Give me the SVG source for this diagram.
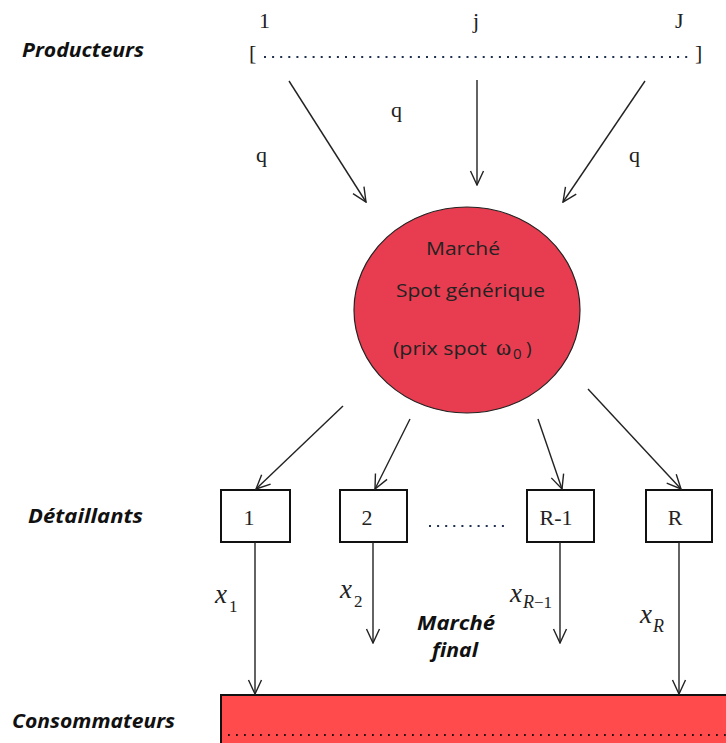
<svg xmlns="http://www.w3.org/2000/svg" width="726" height="743" viewBox="0 0 726 743">
<defs>
<style>
.lbl{font-family:"Open Sans",Lato,"Liberation Sans",sans-serif;font-weight:bold;font-style:italic;font-size:19px;fill:#111}
.ser{font-family:"Liberation Serif","Times New Roman",serif;font-size:22px;fill:#222}
.mx{font-family:"Liberation Serif","Times New Roman",serif;font-style:italic;font-size:27px;fill:#222}
.sub{font-family:"Liberation Serif","Times New Roman",serif;font-size:17px;fill:#222}
.subi{font-family:"Liberation Serif","Times New Roman",serif;font-style:italic;font-size:18px;fill:#222}
.ctr{font-family:"Open Sans",Lato,"Liberation Sans",sans-serif;font-size:19px;fill:#222}
.ln{stroke:#222;stroke-width:1.4;fill:none;marker-end:url(#ah)}
.box{fill:#fff;stroke:#111;stroke-width:2}
.dots{stroke:#1f3050;stroke-width:2;stroke-dasharray:2 6.1;fill:none}
</style>
<marker id="ah" viewBox="0 0 16 16" refX="15" refY="8" markerWidth="16" markerHeight="16" markerUnits="userSpaceOnUse" orient="auto">
<path d="M1,1.5 L15,8 L1,14.5" fill="none" stroke="#222" stroke-width="1.4"/>
</marker>
</defs>
<rect width="726" height="743" fill="#fff"/>

<g id="labels">
<text class="lbl" x="22" y="57" textLength="122" lengthAdjust="spacingAndGlyphs">Producteurs</text>
<text class="lbl" x="28" y="523" textLength="115" lengthAdjust="spacingAndGlyphs">Détaillants</text>
<text class="lbl" x="12" y="728" textLength="163" lengthAdjust="spacingAndGlyphs">Consommateurs</text>
</g>

<g id="producteurs">
<text class="ser" x="259" y="28">1</text>
<text class="ser" x="473" y="28">j</text>
<text class="ser" x="675" y="28">J</text>
<text class="ser" x="249" y="60">[</text>
<text class="ser" x="695" y="60">]</text>
<line class="dots" x1="264" y1="57" x2="692" y2="57"/>
</g>

<g id="marche-spot">
<ellipse cx="467" cy="310" rx="113" ry="103" fill="#E83D50" stroke="#222" stroke-width="1.2"/>
<text class="ctr" x="426" y="255" textLength="74" lengthAdjust="spacingAndGlyphs">Marché</text>
<text class="ctr" x="396" y="297" textLength="149" lengthAdjust="spacingAndGlyphs">Spot générique</text>
<text class="ctr" x="393" y="355"><tspan textLength="94" lengthAdjust="spacingAndGlyphs">(prix spot</tspan><tspan x="496" font-family="'Liberation Serif',serif" font-size="23">ω</tspan><tspan x="513" y="359" font-size="15">0</tspan><tspan x="526" y="355">)</tspan></text>
</g>

<g id="detaillant-1"><rect class="box" x="221" y="490" width="69" height="52"/><text class="ser" x="249" y="525" text-anchor="middle">1</text></g>
<g id="detaillant-2"><rect class="box" x="340" y="490" width="67" height="52"/><text class="ser" x="367" y="525" text-anchor="middle">2</text></g>
<g id="detaillant-R-1"><rect class="box" x="527" y="490" width="67" height="52"/><text class="ser" x="556" y="525" text-anchor="middle">R-1</text></g>
<g id="detaillant-R"><rect class="box" x="646" y="490" width="66" height="52"/><text class="ser" x="675" y="525" text-anchor="middle">R</text></g>
<line class="dots" x1="429" y1="526" x2="507" y2="526"/>

<g id="consommateurs">
<rect x="221" y="695" width="520" height="50" fill="#FF4B4B" stroke="#111" stroke-width="2"/>
<line x1="228" y1="735" x2="726" y2="735" stroke="#2a1010" stroke-width="1.8" stroke-dasharray="1.8 6.2"/>
</g>

<g id="connecteurs">
<line class="ln" x1="289" y1="81" x2="366" y2="202"/>
<line class="ln" x1="477" y1="80" x2="477" y2="185"/>
<line class="ln" x1="645" y1="81" x2="563" y2="202"/>
<line class="ln" x1="343" y1="406" x2="256" y2="489"/>
<line class="ln" x1="410" y1="419" x2="375" y2="489"/>
<line class="ln" x1="538" y1="419" x2="562" y2="489"/>
<line class="ln" x1="588" y1="389" x2="681" y2="489"/>
<line class="ln" x1="255" y1="542" x2="255" y2="694"/>
<line class="ln" x1="373" y1="542" x2="373" y2="643"/>
<line class="ln" x1="560" y1="542" x2="560" y2="643"/>
<line class="ln" x1="679" y1="542" x2="679" y2="694"/>
</g>

<g id="flux">
<text class="ser" x="256" y="162">q</text>
<text class="ser" x="391" y="117">q</text>
<text class="ser" x="629" y="162">q</text>
<text class="mx" x="215" y="603">x<tspan class="sub" dx="2" dy="9" font-style="normal">1</tspan></text>
<text class="mx" x="340" y="598">x<tspan class="sub" dx="2" dy="9" font-style="normal">2</tspan></text>
<text class="mx" x="510" y="602">x<tspan class="subi" dx="1" dy="6">R</tspan><tspan class="sub" font-style="normal">−1</tspan></text>
<text class="mx" x="640" y="623">x<tspan class="subi" dx="1" dy="9">R</tspan></text>
<text class="lbl" x="417" y="630" textLength="78" lengthAdjust="spacingAndGlyphs">Marché</text>
<text class="lbl" x="432" y="657" textLength="46" lengthAdjust="spacingAndGlyphs">final</text>
</g>
</svg>
